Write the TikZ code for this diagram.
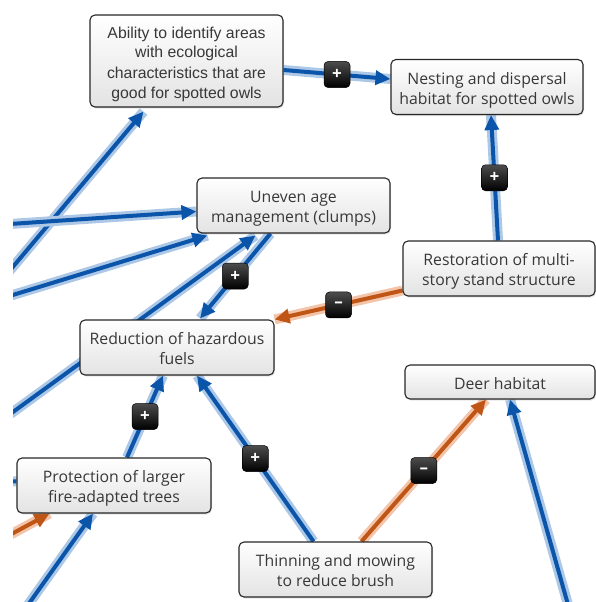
\documentclass[tikz,border=0pt]{standalone}
\usepackage{fontspec}
\setmainfont{Open Sans}
\newfontfamily\arialfont{Liberation Sans}
\usetikzlibrary{arrows.meta,shadows,backgrounds}

\definecolor{azul}{RGB}{10,84,170}
\definecolor{azulclaro}{RGB}{172,200,230}
\definecolor{naranja}{RGB}{192,86,22}
\definecolor{naranjaclaro}{RGB}{242,196,170}
\definecolor{texto}{RGB}{56,56,56}

% puntales para centrar el texto como en la figura
\newcommand{\arr}{\rule{0pt}{19pt}}
\newcommand{\abj}{\rule[-5pt]{0pt}{5pt}}

\begin{document}
\begin{tikzpicture}[x=1pt, y=-1pt]
		% Estilos
		\tikzstyle{block} = [rectangle, draw=black!85, line width=1.1pt, rounded corners=5pt,
			top color=white, bottom color=black!11, text=texto, align=center,
			font=\fontsize{15.8}{20}\selectfont, minimum width=193pt, inner xsep=3pt, inner ysep=5.5pt,
			drop shadow={opacity=0.2, shadow xshift=1pt, shadow yshift=-1.5pt}]
		\tikzstyle{positivo} = [draw=azul, line width=4pt, -{Triangle[length=15pt,width=14pt]},
			preaction={draw=azulclaro, line width=10pt, -}]
		\tikzstyle{negativo} = [draw=naranja, line width=4pt, -{Triangle[length=15pt,width=14pt]},
			preaction={draw=naranjaclaro, line width=10pt, -}]
		\tikzstyle{signo} = [rectangle, draw=black, line width=0.5pt, rounded corners=4pt,
			top color=black!70, bottom color=black, minimum size=26pt, inner sep=0pt,
			text=white, font=\bfseries\fontsize{17}{17}\selectfont]

		\useasboundingbox (0,0) rectangle (596,602);

		% Nodos
		\node [block, font=\arialfont\fontsize{15.8}{20}\selectfont, inner ysep=4pt] (ability) at (186.5,61)
			{\arr Ability to identify areas\\with ecological\\characteristics that are\\good for spotted owls\abj};
		\node [block, minimum width=192pt] (nesting) at (487,87) {\arr Nesting and dispersal\\habitat for spotted owls\abj};
		\node [block] (uneven) at (293.5,205.5) {\arr Uneven age\\management (clumps)\abj};
		\node [block, minimum width=192pt] (restore) at (499,268.5) {\arr Restoration of multi-\\story stand structure\abj};
		\node [block, minimum width=194pt] (fuels) at (177,347.5) {\arr Reduction of hazardous\\fuels\abj};
		\node [block, minimum width=190pt, inner ysep=5pt] (deer) at (500,382) {\arr Deer habitat\abj};
		\node [block, minimum width=194pt] (protect) at (114,485.5) {\arr Protection of larger\\fire-adapted trees\abj};
		\node [block] (thin) at (335.5,569.5) {\arr Thinning and mowing\\to reduce brush\abj};

		% Extremos fuera del recorte
		\coordinate (c1) at (-20,306);
		\coordinate (c2) at (-20,226);
		\coordinate (c3) at (-20,305);
		\coordinate (c4) at (-20,436);
		\coordinate (c5) at (578,640);
		\coordinate (c6) at (3,640);
		\coordinate (c7) at (-20,551);
		\coordinate (c8) at (-20,480);

		% Conexiones
		\begin{scope}[on background layer]
			\clip (13,0) rectangle (596,602);
			\path [positivo] ([yshift=-9pt]ability.east) -- node[signo] {+} ([yshift=8pt]nesting.west);
			\path [positivo] ([xshift=-1pt]restore.north) -- node[signo] {+} ([xshift=4pt]nesting.south);
			\path [negativo] ([yshift=-22pt]restore.west) -- node[signo] {\textendash} (fuels.north east);
			\path [positivo] (c1) -- ([xshift=-43pt,yshift=-4pt]ability.south);
			\path [positivo] (c2) -- ([yshift=-6pt]uneven.west);
			\path [positivo] (c3) -- ([xshift=11pt,yshift=-2pt]uneven.south west);
			\path [positivo] (c4) -- ([xshift=-38pt,yshift=-2pt]uneven.south);
			\path [positivo] ([xshift=-23pt]uneven.south) -- node[signo] {+} ([xshift=23pt,yshift=1pt]fuels.north);
			\path [positivo] ([xshift=13pt]protect.north) -- node[signo] {+} ([xshift=-14pt]fuels.south);
			\path [positivo] ([xshift=-22pt]thin.north) -- node[signo] {+} ([xshift=20pt]fuels.south);
			\path [negativo] ([xshift=26pt]thin.north) -- node[signo] {\textendash} ([xshift=-14pt]deer.south);
			\path [positivo] (c5) -- ([xshift=10pt]deer.south);
			\path [positivo] (c6) -- ([xshift=-21pt]protect.south);
			\path [negativo] (c7) -- ([xshift=33pt]protect.south west);
			\path [positivo, -] (c8) -- (protect);
		\end{scope}
	\end{tikzpicture}
\end{document}
